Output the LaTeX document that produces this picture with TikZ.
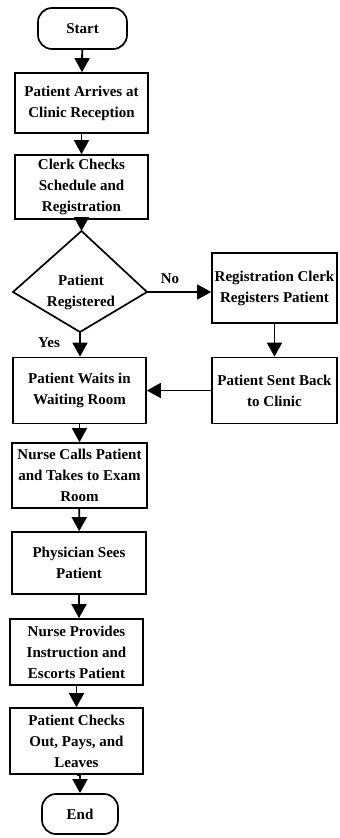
\documentclass[tikz,border=0pt]{standalone}
\usepackage{fontspec}
\setmainfont{Liberation Serif}
\usetikzlibrary{arrows.meta}

\begin{document}
\begin{tikzpicture}[x=1pt,y=-1pt,
  every node/.style={font=\fontsize{15}{21}\selectfont\bfseries},
  box/.style={draw, line width=1.7pt, rectangle, inner sep=0pt, align=center},
  term/.style={box, rounded corners=14pt},
  flow/.style={line width=1.8pt, -{Triangle[width=15pt,length=14pt]}},
  tag/.style={inner sep=0pt}
]
\useasboundingbox (0,0) rectangle (340,838);

% main column
\node[term, minimum width=89pt, minimum height=41pt] (start) at (82.5,28.5) {Start};
\node[box, minimum width=133pt, minimum height=60pt] (arrive) at (81.5,103) {Patient Arrives at\\Clinic Reception};
\node[box, minimum width=133pt, minimum height=64pt] (clerk) at (81.5,187) {Clerk Checks\\Schedule and\\Registration};

% decision
\coordinate (dtop) at (81.5,231);
\coordinate (dleft) at (13,292);
\coordinate (dright) at (147,292);
\coordinate (dbot) at (80,332);
\draw[line width=1.7pt, line join=miter] (dtop) -- (dright) -- (dbot) -- (dleft) -- cycle;
\node[tag, align=center] (dec) at (81,292) {Patient\\Registered};

% registration branch
\node[box, minimum width=125pt, minimum height=70pt] (reg) at (274.5,288) {Registration Clerk\\Registers Patient};
\node[box, minimum width=125pt, minimum height=66pt] (sent) at (274.5,390.5) {Patient Sent Back\\to Clinic};

\node[box, minimum width=133pt, minimum height=66pt] (waits) at (79.5,390.5) {Patient Waits in\\Waiting Room};
\node[box, minimum width=135pt, minimum height=65pt] (calls) at (79.5,475.5) {Nurse Calls Patient\\and Takes to Exam\\Room};
\node[box, minimum width=134pt, minimum height=62pt] (phys) at (79,563) {Physician Sees\\Patient};
\node[box, minimum width=133pt, minimum height=66pt] (provides) at (76.5,652) {Nurse Provides\\Instruction and\\Escorts Patient};
\node[box, minimum width=133pt, minimum height=66pt] (checks) at (76.5,741) {Patient Checks\\Out, Pays, and\\Leaves};
\node[term, minimum width=76pt, minimum height=40pt] (end) at (80,814) {End};

% branch labels
\node[tag] (no) at (170,279) {No};
\node[tag] (yes) at (49,343) {Yes};

% connectors
\draw[flow] (start) -- (arrive);
\draw[flow] (arrive) -- (clerk);
\draw[flow] (clerk.south) -- (dtop);
\draw[flow] (dright) -- (dright -| reg.west);
\draw[flow] (dbot) -- (dbot |- waits.north);
\draw[flow] (reg) -- (sent);
\draw[flow] (sent) -- (waits);
\draw[flow] (waits) -- (calls);
\draw[flow] (calls) -- (phys);
\draw[flow] (phys.south) -- (phys.south |- provides.north);
\draw[flow] (provides) -- (checks);
\draw[flow] (checks.south) -- (checks.south -| end.north) -- (end.north);
\end{tikzpicture}
\end{document}
